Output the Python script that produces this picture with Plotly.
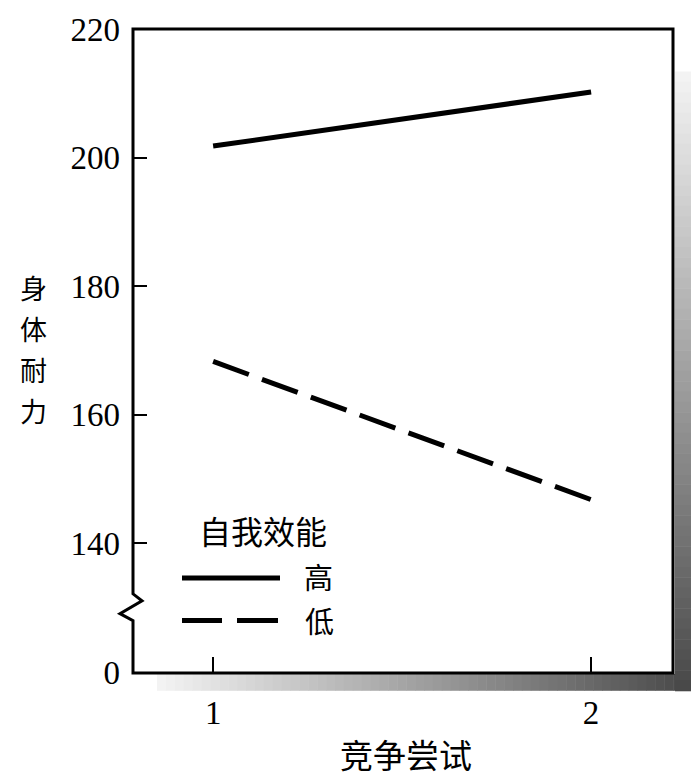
import plotly.graph_objects as go

# ---- data ----
trials = [1, 2]
trial_labels = ["1", "2"]
high_efficacy = [201.8, 210.2]
low_efficacy = [168.3, 146.8]
series_names = ["高", "低"]
y_tick_vals = [120, 140, 160, 180, 200, 220]
y_tick_text = ["0", "140", "160", "180", "200", "220"]

W, H = 691, 780
L, R, T, B = 133, 672, 22, 672

def px(xp):
    return (xp - L) / (R - L)

def py(yp):
    return (B - yp) / (B - T)

NUM_FONT = "Liberation Serif, Times New Roman, serif"
CJK_FONT = "Noto Sans CJK SC, sans-serif"

fig = go.Figure()
fig.add_trace(go.Scatter(x=trials, y=high_efficacy, mode="lines", name=series_names[0],
                         line=dict(color="black", width=5), showlegend=False))
fig.add_trace(go.Scatter(x=trials, y=low_efficacy, mode="lines", name=series_names[1],
                         line=dict(color="black", width=5, dash="38px,14px"), showlegend=False))

shapes = []
# gradient shadow (bottom strip and right strip)
def gray(t):
    v = int(round(244 - t * (244 - 72)))
    return f"rgb({v},{v},{v})"

n = 60
x0s, x1s = 157, 691
for i in range(n):
    a = x0s + (x1s - x0s) * i / n
    b = x0s + (x1s - x0s) * (i + 1) / n + 0.5
    shapes.append(dict(type="rect", xref="paper", yref="paper", x0=px(a), x1=px(b),
                       y0=py(691), y1=py(674), fillcolor=gray((i + 0.5) / n),
                       line=dict(width=0), layer="below"))
y0s, y1s = 65, 691
for i in range(n):
    a = y0s + (y1s - y0s) * i / n
    b = y0s + (y1s - y0s) * (i + 1) / n + 0.5
    shapes.append(dict(type="rect", xref="paper", yref="paper", x0=px(675), x1=px(692),
                       y0=py(b), y1=py(a), fillcolor=gray((i + 0.5) / n),
                       line=dict(width=0), layer="below"))

# border with axis break on left side
path = (f"M {px(133)},{py(22)} L {px(673)},{py(22)} L {px(673)},{py(673)} "
        f"L {px(133)},{py(673)} L {px(133)},{py(620)} L {px(120)},{py(613)} "
        f"L {px(142)},{py(600)} L {px(133)},{py(593)} Z")
shapes.append(dict(type="path", xref="paper", yref="paper", path=path,
                   line=dict(color="black", width=3), fillcolor="rgba(0,0,0,0)", layer="above"))

# legend samples
shapes.append(dict(type="line", xref="paper", yref="paper", x0=px(182), x1=px(280),
                   y0=py(577), y1=py(577), line=dict(color="black", width=5)))
shapes.append(dict(type="line", xref="paper", yref="paper", x0=px(182), x1=px(222),
                   y0=py(620), y1=py(620), line=dict(color="black", width=5)))
shapes.append(dict(type="line", xref="paper", yref="paper", x0=px(237), x1=px(278),
                   y0=py(620), y1=py(620), line=dict(color="black", width=5)))

annotations = []
# y title chars
for ch, yy in zip("身体耐力", [283, 325, 366, 408]):
    annotations.append(dict(text=ch, xref="paper", yref="paper", x=px(33), y=py(yy),
                            showarrow=False, font=dict(family=CJK_FONT, size=27, color="black"),
                            xanchor="center", yanchor="middle"))
annotations.append(dict(text="竞争尝试", xref="paper", yref="paper", x=px(406), y=py(755),
                        showarrow=False, font=dict(family=CJK_FONT, size=33, color="black"),
                        xanchor="center", yanchor="middle"))
annotations.append(dict(text="自我效能", xref="paper", yref="paper", x=px(263), y=py(528),
                        showarrow=False, font=dict(family=CJK_FONT, size=32, color="black"),
                        xanchor="center", yanchor="middle"))
annotations.append(dict(text=series_names[0], xref="paper", yref="paper", x=px(318), y=py(575),
                        showarrow=False, font=dict(family=CJK_FONT, size=29, color="black"),
                        xanchor="center", yanchor="middle"))
annotations.append(dict(text=series_names[1], xref="paper", yref="paper", x=px(319), y=py(619),
                        showarrow=False, font=dict(family=CJK_FONT, size=29, color="black"),
                        xanchor="center", yanchor="middle"))

fig.update_layout(
    width=W, height=H,
    margin=dict(l=L, r=W - R, t=T, b=H - B),
    paper_bgcolor="white", plot_bgcolor="white",
    showlegend=False,
    shapes=shapes, annotations=annotations,
    xaxis=dict(range=[0.788, 2.214], tickvals=trials, ticktext=trial_labels,
               ticks="inside", ticklen=15, tickwidth=2, tickcolor="black",
               showline=False, showgrid=False, zeroline=False,
               tickfont=dict(family=NUM_FONT, size=33, color="black"),
               ticklabelstandoff=18),
    yaxis=dict(range=[120, 220], tickvals=y_tick_vals, ticktext=y_tick_text,
               ticks="inside", ticklen=14, tickwidth=2, tickcolor="black",
               showline=False, showgrid=False, zeroline=False,
               tickfont=dict(family=NUM_FONT, size=33, color="black"),
               ticklabelstandoff=12),
)

post = ("document.body.style.margin='0';document.body.style.padding='0';"
        "document.documentElement.style.overflow='hidden';")
fig.write_html("out.html", post_script=post, config={"displayModeBar": False})
